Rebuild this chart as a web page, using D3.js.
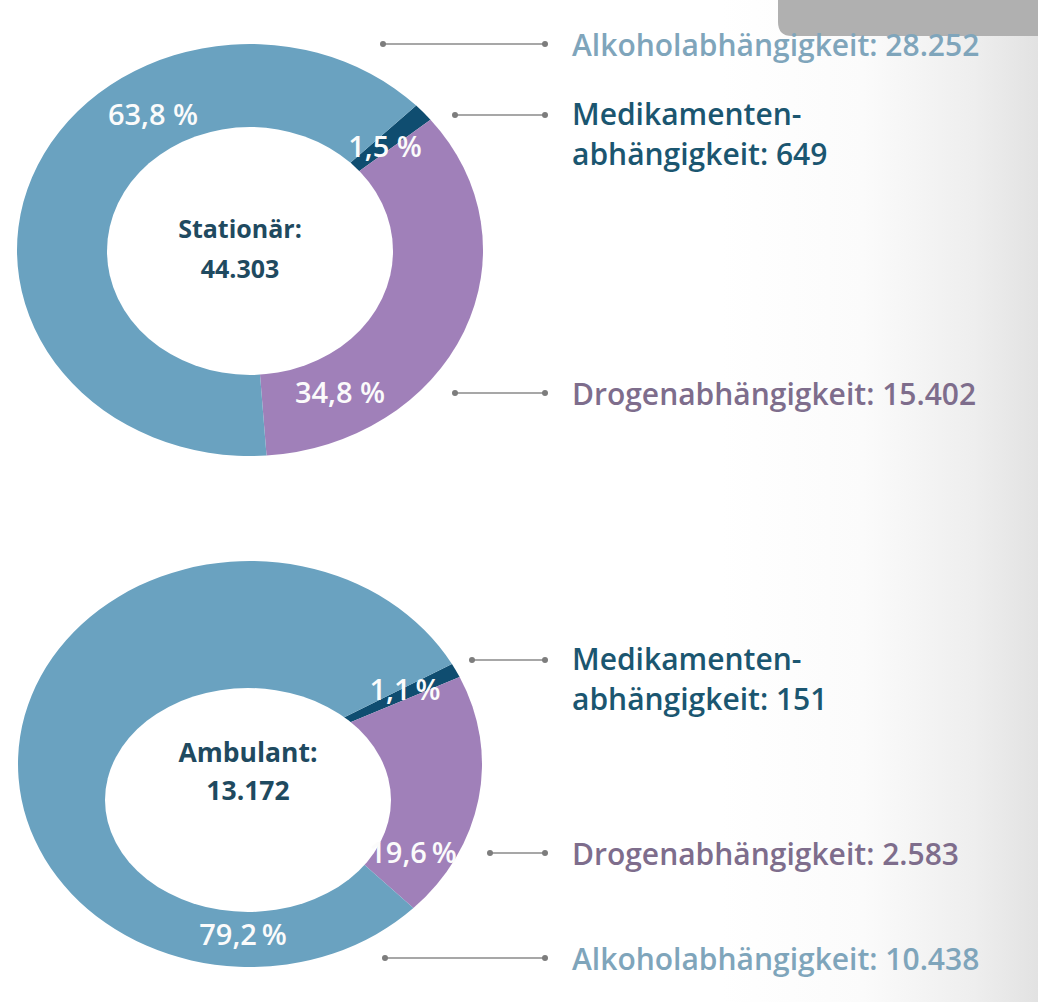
<!DOCTYPE html>
<html>
<head>
<meta charset="utf-8">
<script src="https://cdn.jsdelivr.net/npm/d3@7"></script>
<style>
  html, body { margin: 0; padding: 0; background: #fff; }
  svg { display: block; font-family: "Open Sans", "Noto Sans", sans-serif; font-weight: 600; }
</style>
</head>
<body>
<svg id="chart" width="1038" height="1002"></svg>
<script>
// data
const categories = ["Alkoholabhängigkeit", "Drogenabhängigkeit", "Medikamentenabhängigkeit"];
const stationaerValues = [28252, 15402, 649];
const ambulantValues = [10438, 2583, 151];
const chartTitles = ["Stationär:", "Ambulant:"];

const sliceColors = ["#6aa2c0", "#a080b9", "#0f4d70"];
const legendColors = ["#7fa5bb", "#7e6d8c", "#1b5670"];

const de = d3.formatLocale({decimal: ",", thousands: ".", grouping: [3], currency: ["", " €"]});
const fmtInt = de.format(",");
const fmtPct = de.format(".1f");

const svg = d3.select("#chart");

// background: grey fade on the right, grey box top right
const defs = svg.append("defs");
const grad = defs.append("linearGradient").attr("id", "fade")
  .attr("x1", 0).attr("x2", 1).attr("y1", 0).attr("y2", 0);
grad.append("stop").attr("offset", "0%").attr("stop-color", "#ffffff");
grad.append("stop").attr("offset", "45%").attr("stop-color", "#fbfbfb");
grad.append("stop").attr("offset", "80%").attr("stop-color", "#eeeeee");
grad.append("stop").attr("offset", "100%").attr("stop-color", "#e2e2e2");
svg.append("rect").attr("x", 0).attr("y", 0).attr("width", 1038).attr("height", 1002).attr("fill", "#fff");
svg.append("rect").attr("x", 720).attr("y", 0).attr("width", 318).attr("height", 1002).attr("fill", "url(#fade)");
svg.append("path")
  .attr("d", "M778,0 L1038,0 L1038,36 L792,36 Q778,36 778,22 Z")
  .attr("fill", "#b0b0b0");

// layout of the two donuts (ellipses: photo is skewed)
// pctPos follows the order of the value arrays: Alkohol, Drogen, Medikamente
const layout = [
  {
    values: stationaerValues, title: chartTitles[0], pctSuffix: " %",
    cx: 250, cy: 250, rx: 233, ry: 206,
    hole: {cx: 250, cy: 251, rx: 143, ry: 124},
    start: 45.5,
    centre: {x: 240, y1: 228, y2: 268, size: 25},
    pctPos: [[153, 115], [340, 393], [385, 147]],
    legend: [ // x of line start, y
      {i: 0, x0: 383, y: 44},
      {i: 2, x0: 455, y: 115},
      {i: 1, x0: 455, y: 393}
    ]
  },
  {
    values: ambulantValues, title: chartTitles[1], pctSuffix: "\u2009%",
    cx: 250, cy: 764, rx: 232, ry: 203,
    hole: {cx: 248, cy: 800, rx: 143, ry: 112},
    start: 60.5,
    centre: {x: 248, y1: 752, y2: 790, size: 26.5},
    pctPos: [[243, 935], [413, 853], [405, 690]],
    legend: [
      {i: 2, x0: 472, y: 660},
      {i: 1, x0: 490, y: 853},
      {i: 0, x0: 385, y: 958}
    ]
  }
];

// order around the ring (clockwise): Medikamente, Drogen, Alkohol
const ringOrder = [2, 1, 0];

layout.forEach(c => {
  const total = d3.sum(c.values);
  const a0 = c.start * Math.PI / 180;
  const pie = d3.pie().sort(null).value(i => c.values[i])
    .startAngle(a0).endAngle(a0 + 2 * Math.PI);
  const arc = d3.arc().innerRadius(0).outerRadius(c.rx);

  const g = svg.append("g")
    .attr("transform", `translate(${c.cx},${c.cy}) scale(1,${c.ry / c.rx})`);
  g.selectAll("path")
    .data(pie(ringOrder))
    .join("path")
    .attr("d", arc)
    .attr("fill", d => sliceColors[d.data]);

  svg.append("ellipse")
    .attr("cx", c.hole.cx).attr("cy", c.hole.cy)
    .attr("rx", c.hole.rx).attr("ry", c.hole.ry)
    .attr("fill", "#fff");

  // centre text
  const t = svg.append("text")
    .attr("text-anchor", "middle")
    .attr("fill", "#1f4a60")
    .attr("font-weight", 700)
    .attr("font-size", c.centre.size);
  t.append("tspan").attr("x", c.centre.x).attr("y", c.centre.y1 + 10).text(c.title);
  t.append("tspan").attr("x", c.centre.x).attr("y", c.centre.y2 + 10).text(fmtInt(total));

  // percentage labels
  c.values.forEach((v, i) => {
    svg.append("text")
      .attr("x", c.pctPos[i][0]).attr("y", c.pctPos[i][1] + 10)
      .attr("text-anchor", "middle")
      .attr("fill", "#fbfbfb")
      .attr("font-size", 29)
      .text(fmtPct(v / total * 100) + c.pctSuffix);
  });

  // leader lines + legend texts
  c.legend.forEach(l => {
    const lg = svg.append("g");
    lg.append("line")
      .attr("x1", l.x0).attr("x2", 545).attr("y1", l.y).attr("y2", l.y)
      .attr("stroke", "#8a8a8a").attr("stroke-width", 1.6);
    lg.selectAll("circle").data([l.x0, 545]).join("circle")
      .attr("cx", d => d).attr("cy", l.y).attr("r", 3).attr("fill", "#7d7d7d");

    const label = categories[l.i] + ": " + fmtInt(c.values[l.i]);
    const txt = lg.append("text")
      .attr("fill", legendColors[l.i])
      .attr("font-size", 30);
    if (l.i === 2) {
      // Medikamenten- / abhängigkeit: n
      txt.append("tspan").attr("x", 572).attr("y", l.y + 10).text("Medikamenten-");
      txt.append("tspan").attr("x", 572).attr("y", l.y + 50)
        .text(label.replace("Medikamenten", ""));
    } else {
      txt.attr("x", 572).attr("y", l.y + 12).text(label);
    }
  });
});
</script>
</body>
</html>
